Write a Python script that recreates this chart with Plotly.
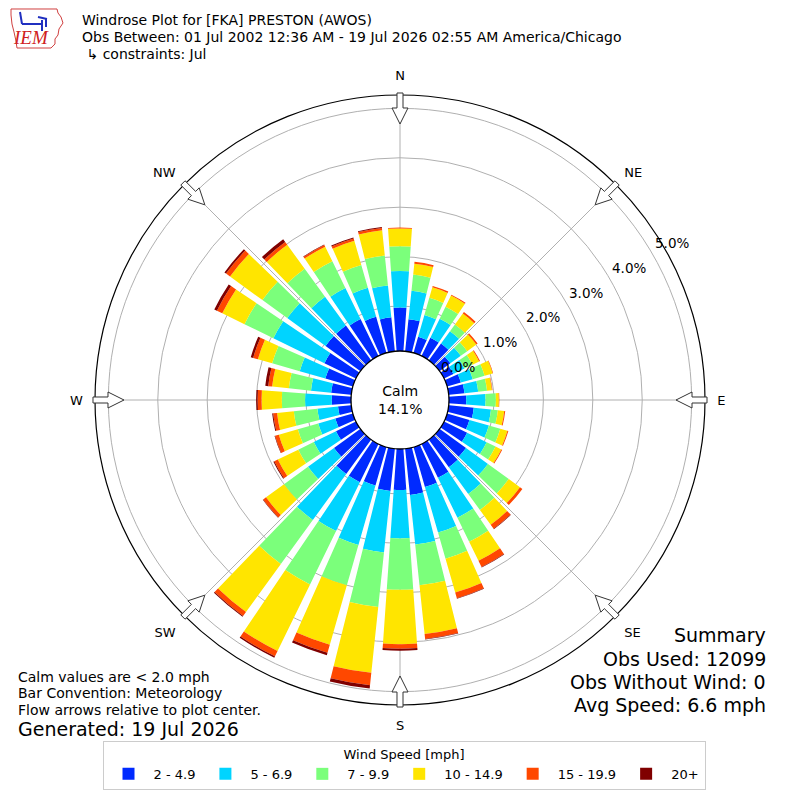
import numpy as np
import plotly.graph_objects as go

# Wind direction bins (degrees, meteorological) and frequencies (% of obs)
directions = list(range(0, 360, 10))
speed_bins = ["2 - 4.9", "5 - 6.9", "7 - 9.9", "10 - 14.9", "15 - 19.9", "20+"]
bin_colors = ["#002aff", "#00d4ff", "#7bff7b", "#ffe500", "#ff4800", "#800000"]

freq_2_5 = [0.97, 0.74, 0.43, 0.50, 0.51, 0.36, 0.30, 0.38, 0.41, 0.44, 0.60, 0.56,
            0.61, 0.75, 0.78, 0.85, 0.93, 1.03, 0.92, 0.95, 0.90, 0.95, 0.95, 0.75,
            0.54, 0.46, 0.36, 0.48, 0.50, 0.67, 0.80, 0.96, 0.96, 0.92, 0.85, 0.78]
freq_5_7 = [0.74, 0.58, 0.46, 0.43, 0.31, 0.26, 0.25, 0.25, 0.28, 0.39, 0.35, 0.41,
            0.44, 0.55, 0.67, 0.90, 0.96, 1.01, 0.98, 1.25, 1.25, 1.10, 1.15, 0.65,
            0.50, 0.36, 0.42, 0.54, 0.41, 0.54, 1.15, 0.96, 0.72, 0.70, 0.61, 0.65]
freq_7_10 = [0.50, 0.33, 0.36, 0.27, 0.17, 0.16, 0.18, 0.25, 0.18, 0.21, 0.14, 0.24,
             0.20, 0.52, 0.40, 0.54, 0.55, 0.83, 1.04, 1.11, 0.85, 1.20, 1.10, 0.60,
             0.35, 0.43, 0.48, 0.47, 0.45, 0.58, 0.65, 0.62, 0.70, 0.60, 0.48, 0.61]
freq_10_15 = [0.36, 0.22, 0.22, 0.25, 0.27, 0.23, 0.15, 0.17, 0.10, 0.06, 0.13, 0.15,
              0.13, 0.28, 0.37, 0.43, 0.71, 0.99, 1.10, 1.34, 1.25, 1.50, 1.20, 0.45,
              0.46, 0.40, 0.34, 0.41, 0.34, 0.30, 0.50, 0.81, 0.60, 0.33, 0.51, 0.51]
freq_15_20 = [0.02, 0.04, 0.03, 0.02, 0.04, 0.03, 0.02, 0.01, 0.01, 0.01, 0.02, 0.02,
              0.02, 0.06, 0.10, 0.14, 0.12, 0.10, 0.09, 0.25, 0.17, 0.12, 0.10, 0.07,
              0.08, 0.08, 0.08, 0.08, 0.08, 0.10, 0.12, 0.10, 0.07, 0.04, 0.05, 0.05]
freq_20p = [0.00, 0.00, 0.00, 0.00, 0.00, 0.00, 0.00, 0.00, 0.00, 0.00, 0.00, 0.00,
            0.00, 0.00, 0.01, 0.01, 0.01, 0.01, 0.04, 0.07, 0.05, 0.03, 0.02, 0.01,
            0.02, 0.01, 0.02, 0.03, 0.06, 0.05, 0.06, 0.04, 0.07, 0.01, 0.02, 0.02]
series = [freq_2_5, freq_5_7, freq_7_10, freq_10_15, freq_15_20, freq_20p]

calm_pct = 14.1
ring_vals = [0, 1, 2, 3, 4, 5]
compass = ["N", "NE", "E", "SE", "S", "SW", "W", "NW"]
compass_deg = [0, 45, 90, 135, 180, 225, 270, 315]

# page has an 8px body margin, so the figure is 792px and positions are shifted
OFF = 8
W = H = 792
CX, CY = 400, 400
R_OUT = 305
R_CALM = 49
HOLE = 0.146
R_MAX = 5.27
LABEL_BEARING = 60


def px(x, y):
    return (x - OFF) / W, 1 - (y - OFF) / H


def path_of(points):
    s = ""
    for i, (x, y) in enumerate(points):
        xx, yy = px(x, y)
        s += ("M" if i == 0 else "L") + f"{xx:.5f},{yy:.5f} "
    return s + "Z"


fig = go.Figure()
for name, vals, col in zip(speed_bins, series, bin_colors):
    fig.add_trace(go.Barpolar(
        r=vals, theta=directions, width=8, name=name,
        marker=dict(color=col, line=dict(width=0)),
    ))

# inward flow arrows on the rim
shapes = []
for b in compass_deg:
    a = np.radians(b)
    u = (np.sin(a), -np.cos(a))
    v = (np.cos(a), np.sin(a))
    tmpl = [(276, 0), (292, 8), (292, 3), (307, 3), (307, -3), (292, -3), (292, -8)]
    pts = [(CX + rr * u[0] + ww * v[0], CY + rr * u[1] + ww * v[1]) for rr, ww in tmpl]
    shapes.append(dict(type="path", path=path_of(pts), xref="paper", yref="paper",
                       fillcolor="white", line=dict(color="#333333", width=1), layer="above"))

# calm circle
x0, y0 = px(CX - R_CALM, CY + R_CALM)
x1, y1 = px(CX + R_CALM, CY - R_CALM)
shapes.append(dict(type="circle", xref="paper", yref="paper", x0=x0, y0=y0, x1=x1, y1=y1,
                   fillcolor="white", line=dict(color="black", width=1.3), layer="above"))

# IEM logo (rough)
iowa = [(11, 9), (57, 9), (58, 13), (61, 17), (63, 23), (59, 29), (58, 35), (55, 39),
        (55, 44), (51, 48), (17, 48), (16, 41), (14, 32), (12, 24), (11, 15)]
shapes.append(dict(type="path", path=path_of(iowa), xref="paper", yref="paper",
                   line=dict(color="#d04040", width=1)))
for (xa, ya, xb, yb) in [(22, 24, 42, 24), (42, 20, 42, 31), (20, 12, 22, 24), (38, 17, 47, 19),
                         (46, 19, 46, 27)]:
    p0 = px(xa, ya)
    p1 = px(xb, yb)
    shapes.append(dict(type="line", xref="paper", yref="paper", x0=p0[0], y0=p0[1],
                       x1=p1[0], y1=p1[1], line=dict(color="#2030c0", width=2)))

font = "DejaVu Sans"
ann = []


def note(text, x, y, size, anchor="left", color="black", fam=font):
    xx, yy = px(x, y)
    ann.append(dict(text=text, x=xx, y=yy, xref="paper", yref="paper", xanchor=anchor,
                    yanchor="middle", showarrow=False, font=dict(size=size, family=fam, color=color)))


note(f"Calm<br>{calm_pct:.1f}%", CX, CY, 14, anchor="center")
note("Windrose Plot for [FKA] PRESTON (AWOS)", 80, 20, 14)
note("Obs Between: 01 Jul 2002 12:36 AM - 19 Jul 2026 02:55 AM America/Chicago", 80, 37, 14)
note(" ↳ constraints: Jul", 80, 54, 14)
note("Calm values are < 2.0 mph", 16, 677, 14)
note("Bar Convention: Meteorology", 16, 693, 14)
note("Flow arrows relative to plot center.", 16, 710, 14)
note("Generated: 19 Jul 2026", 16, 729, 19)
note("Summary", 768, 635, 19, anchor="right")
note("Obs Used: 12099", 768, 659, 19, anchor="right")
note("Obs Without Wind: 0", 768, 682, 19, anchor="right")
note("Avg Speed: 6.6 mph", 768, 705, 19, anchor="right")
note("<i>IEM</i>", 31, 38, 19, anchor="center", color="#d02020", fam="Liberation Serif")

# radial ring labels placed along the 60 degree bearing, just outside each ring
la = np.radians(LABEL_BEARING)
for v in ring_vals:
    rp = R_OUT * (HOLE + (1 - HOLE) * v / R_MAX) + 22
    note(f"{v:.1f}%", CX + rp * np.sin(la), CY - rp * np.cos(la), 13.5, anchor="center")

fig.update_layout(
    width=W, height=H,
    margin=dict(l=0, r=0, t=0, b=0),
    paper_bgcolor="white",
    font=dict(family=font, size=13, color="black"),
    polar=dict(
        domain=dict(x=[(CX - R_OUT - OFF) / W, (CX + R_OUT - OFF) / W],
                    y=[1 - (CY + R_OUT - OFF) / H, 1 - (CY - R_OUT - OFF) / H]),
        hole=HOLE,
        barmode="stack",
        bgcolor="white",
        angularaxis=dict(rotation=90, direction="clockwise", tickvals=compass_deg, ticktext=compass,
                         showgrid=True, gridcolor="#b0b0b0", gridwidth=1,
                         showline=True, linecolor="black", linewidth=1.2,
                         ticks="outside", ticklen=9, tickcolor="rgba(0,0,0,0)",
                         tickfont=dict(size=13)),
        radialaxis=dict(range=[0, R_MAX], tickvals=ring_vals, showticklabels=False,
                        angle=90 - LABEL_BEARING, showline=False, ticks="",
                        showgrid=True, gridcolor="#b0b0b0", gridwidth=1),
    ),
    legend=dict(orientation="h", x=0.5, xanchor="center", y=1 - (741 - OFF) / H, yanchor="top",
                title=dict(text="Wind Speed [mph]", side="top center", font=dict(size=13)),
                bordercolor="#cccccc", borderwidth=1, font=dict(size=13),
                itemsizing="constant", itemwidth=40),
    shapes=shapes,
    annotations=ann,
)

fig.write_html("out.html")
